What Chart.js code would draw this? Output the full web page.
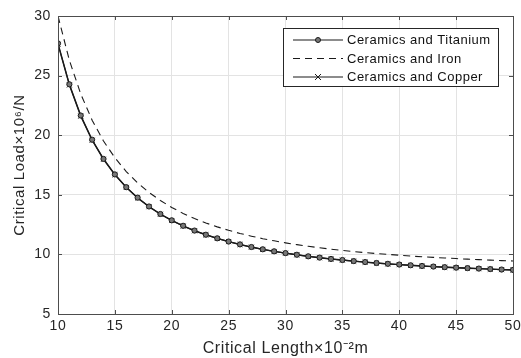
<!DOCTYPE html>
<html>
<head>
<meta charset="utf-8">
<script src="https://cdn.jsdelivr.net/npm/chart.js@4"></script>
<style>
  body { margin: 0; background: #fff; }
  #chart { display: block; }
</style>
</head>
<body>
<canvas id="chart" width="521" height="358"></canvas>
<script>
// critical length (x10^-2 m)
const lengths = [10, 11, 12, 13, 14, 15, 16, 17, 18, 19, 20, 21, 22, 23, 24, 25, 26, 27, 28, 29, 30,
    31, 32, 33, 34, 35, 36, 37, 38, 39, 40, 41, 42, 43, 44, 45, 46, 47, 48, 49, 50]

// critical load (x10^6 N)
const titanium = [27.70, 24.27, 21.65, 19.62, 18.01, 16.71, 15.64, 14.76, 14.02, 13.39, 12.86,
    12.40, 12.00, 11.65, 11.35, 11.08, 10.84, 10.62, 10.43, 10.26, 10.11,
    9.97, 9.84, 9.73, 9.62, 9.53, 9.44, 9.36, 9.28, 9.21, 9.15,
    9.09, 9.03, 8.98, 8.93, 8.89, 8.85, 8.81, 8.77, 8.73, 8.70]
const iron = [30.00, 26.28, 23.46, 21.26, 19.51, 18.11, 16.95, 16.00, 15.20, 14.52, 13.94,
    13.44, 13.01, 12.64, 12.31, 12.02, 11.76, 11.53, 11.32, 11.14, 10.97,
    10.82, 10.68, 10.56, 10.44, 10.34, 10.24, 10.15, 10.07, 10.00, 9.93,
    9.86, 9.80, 9.75, 9.70, 9.65, 9.60, 9.56, 9.52, 9.48, 9.45]
const copper = [27.62, 24.21, 21.60, 19.58, 17.98, 16.68, 15.62, 14.74, 14.00, 13.37, 12.84,
    12.38, 11.98, 11.64, 11.34, 11.07, 10.83, 10.61, 10.42, 10.25, 10.10,
    9.96, 9.83, 9.72, 9.61, 9.52, 9.43, 9.35, 9.27, 9.20, 9.14,
    9.08, 9.02, 8.97, 8.92, 8.88, 8.84, 8.80, 8.76, 8.72, 8.69]

const xTicks = [10, 15, 20, 25, 30, 35, 40, 45, 50]
const yTicks = [5, 10, 15, 20, 25, 30]

const seriesNames = ['Ceramics and Titanium', 'Ceramics and Iron', 'Ceramics and Copper']

const toPoints = (ys) => lengths.map((x, i) => ({ x: x, y: ys[i] }))

const FONT = 'Liberation Sans, Arial, sans-serif'
const INK = '#262626'

// the original's text is set a little looser than Liberation Sans
const spacingPlugin = {
    id: 'spacing',
    beforeDraw(chart) { chart.ctx.letterSpacing = '0.6px' }
}

// MATLAB-like box, inward ticks and a framed legend inside the axes
const boxPlugin = {
    id: 'box',
    afterDraw(chart) {
        const ctx = chart.ctx
        const a = chart.chartArea
        const xs = chart.scales.x
        const ys = chart.scales.y
        ctx.save()
        ctx.strokeStyle = '#4d4d4d'
        ctx.lineWidth = 1
        ctx.strokeRect(Math.round(a.left) + 0.5, Math.round(a.top) + 0.5,
            Math.round(a.right - a.left), Math.round(a.bottom - a.top))
        ctx.beginPath()
        xTicks.forEach(v => {
            const px = Math.round(xs.getPixelForValue(v)) + 0.5
            ctx.moveTo(px, a.bottom); ctx.lineTo(px, a.bottom - 4)
            ctx.moveTo(px, a.top); ctx.lineTo(px, a.top + 4)
        })
        yTicks.forEach(v => {
            const py = Math.round(ys.getPixelForValue(v)) + 0.5
            ctx.moveTo(a.left, py); ctx.lineTo(a.left + 4, py)
            ctx.moveTo(a.right, py); ctx.lineTo(a.right - 4, py)
        })
        ctx.stroke()

        // legend
        const lx = 283, ly = 28, lw = 215, lh = 58
        ctx.fillStyle = '#fff'
        ctx.fillRect(lx, ly, lw, lh)
        ctx.strokeStyle = '#262626'
        ctx.strokeRect(lx + 0.5, ly + 0.5, lw, lh)
        ctx.font = '13px ' + FONT
        ctx.letterSpacing = '0.5px'
        ctx.textBaseline = 'middle'
        chart.data.datasets.forEach((ds, i) => {
            const y = ly + 12 + i * 18.5
            ctx.strokeStyle = '#1a1a1a'
            ctx.lineWidth = 1.2
            ctx.setLineDash(ds.borderDash || [])
            ctx.beginPath()
            ctx.moveTo(lx + 10, y); ctx.lineTo(lx + 60, y)
            ctx.stroke()
            ctx.setLineDash([])
            const mx = lx + 35
            if (ds.pointStyle === 'circle') {
                ctx.beginPath()
                ctx.arc(mx, y, 2.5, 0, Math.PI * 2)
                ctx.fillStyle = '#777'
                ctx.fill()
                ctx.lineWidth = 1
                ctx.stroke()
            } else if (ds.pointStyle === 'crossRot') {
                ctx.lineWidth = 1
                ctx.beginPath()
                ctx.moveTo(mx - 3, y - 3); ctx.lineTo(mx + 3, y + 3)
                ctx.moveTo(mx - 3, y + 3); ctx.lineTo(mx + 3, y - 3)
                ctx.stroke()
            }
            ctx.fillStyle = '#111'
            ctx.fillText(ds.label, lx + 64, y + 0.5)
        })
        ctx.restore()
    }
}

const config = {
    type: 'line',
    data: {
        datasets: [{
            label: seriesNames[0],
            data: toPoints(titanium),
            borderColor: '#1a1a1a',
            borderWidth: 1.3,
            pointStyle: 'circle',
            pointRadius: 2.6,
            pointBackgroundColor: '#777',
            pointBorderColor: '#1a1a1a',
            pointBorderWidth: 1,
            tension: 0
        }, {
            label: seriesNames[1],
            data: toPoints(iron),
            borderColor: '#1a1a1a',
            borderWidth: 1.1,
            borderDash: [7, 5],
            pointRadius: 0,
            tension: 0
        }, {
            label: seriesNames[2],
            data: toPoints(copper),
            borderColor: '#1a1a1a',
            borderWidth: 1.3,
            pointStyle: 'crossRot',
            pointRadius: 3.5,
            pointBorderColor: '#1a1a1a',
            pointBorderWidth: 1,
            tension: 0
        }]
    },
    options: {
        responsive: false,
        animation: false,
        layout: { padding: { left: 0, right: 8, top: 16, bottom: 0 } },
        plugins: {
            legend: { display: false },
            tooltip: { enabled: false }
        },
        scales: {
            x: {
                type: 'linear',
                min: 10,
                max: 50,
                afterFit: (s) => { s.height = 44; s.paddingRight = 0; s.paddingLeft = 0 },
                afterBuildTicks: (s) => { s.ticks = xTicks.map(v => ({ value: v })) },
                grid: { color: '#e3e3e3', drawTicks: false },
                border: { display: false },
                ticks: { color: INK, font: { family: FONT, size: 14 }, padding: 4, maxRotation: 0 },
                title: {
                    display: true,
                    text: 'Critical Length×10⁻²m',
                    color: INK,
                    font: { family: FONT, size: 16 },
                    padding: { top: 0, bottom: 0 }
                }
            },
            y: {
                type: 'linear',
                min: 5,
                max: 30,
                afterFit: (s) => { s.width = 58 },
                afterBuildTicks: (s) => { s.ticks = yTicks.map(v => ({ value: v })) },
                grid: { color: '#e3e3e3', drawTicks: false },
                border: { display: false },
                ticks: { color: INK, font: { family: FONT, size: 14 }, padding: 7 },
                title: {
                    display: true,
                    text: 'Critical Load×10⁶/N',
                    color: INK,
                    font: { family: FONT, size: 15 },
                    padding: { top: 11, bottom: 0 }
                }
            }
        }
    },
    plugins: [spacingPlugin, boxPlugin]
}

new Chart(document.getElementById('chart').getContext('2d'), config)
</script>
</body>
</html>
